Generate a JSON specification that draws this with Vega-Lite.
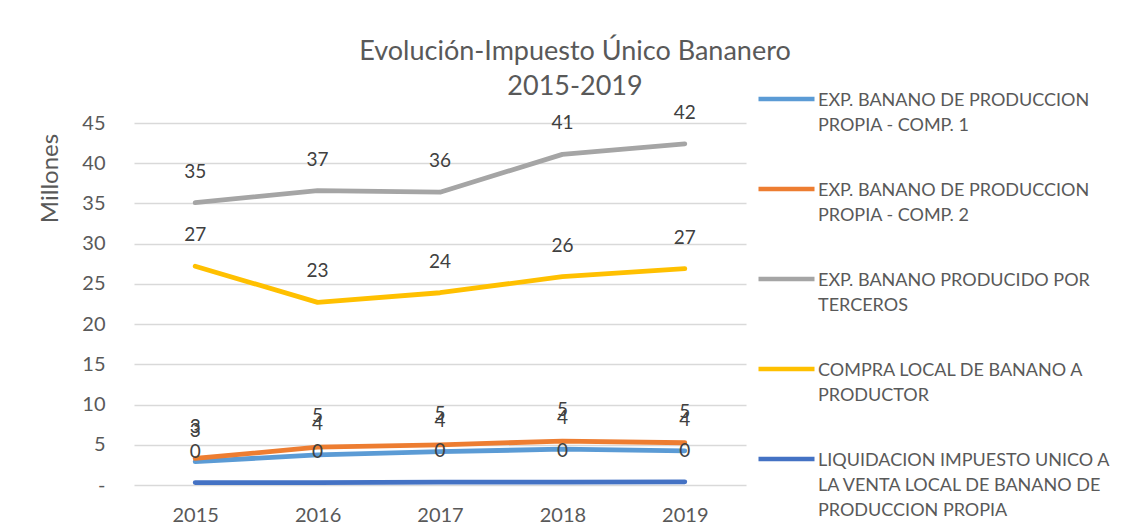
{
  "$schema": "https://vega.github.io/schema/vega-lite/v6.json",
  "autosize": {"type": "none"},
  "width": 612,
  "height": 362,
  "padding": {"left": 134, "top": 123, "right": 384, "bottom": 46},
  "config": {
    "font": "Lato",
    "view": {"stroke": null},
    "style": {"guide-label": {"lineHeight": 25}}
  },
  "title": {
    "text": ["Evolución-Impuesto Único Bananero", "2015-2019"],
    "fontSize": 27,
    "fontWeight": "normal",
    "color": "#595959",
    "anchor": "middle",
    "dx": 135,
    "lineHeight": 35,
    "offset": -26
  },
  "data": {
    "values": [
      {"year": "2015", "serie": "EXP. BANANO DE PRODUCCION PROPIA - COMP. 1", "value": 2.9},
      {"year": "2016", "serie": "EXP. BANANO DE PRODUCCION PROPIA - COMP. 1", "value": 3.75},
      {"year": "2017", "serie": "EXP. BANANO DE PRODUCCION PROPIA - COMP. 1", "value": 4.15},
      {"year": "2018", "serie": "EXP. BANANO DE PRODUCCION PROPIA - COMP. 1", "value": 4.45},
      {"year": "2019", "serie": "EXP. BANANO DE PRODUCCION PROPIA - COMP. 1", "value": 4.25},
      {"year": "2015", "serie": "EXP. BANANO DE PRODUCCION PROPIA - COMP. 2", "value": 3.3},
      {"year": "2016", "serie": "EXP. BANANO DE PRODUCCION PROPIA - COMP. 2", "value": 4.7},
      {"year": "2017", "serie": "EXP. BANANO DE PRODUCCION PROPIA - COMP. 2", "value": 5.0},
      {"year": "2018", "serie": "EXP. BANANO DE PRODUCCION PROPIA - COMP. 2", "value": 5.45},
      {"year": "2019", "serie": "EXP. BANANO DE PRODUCCION PROPIA - COMP. 2", "value": 5.25},
      {"year": "2015", "serie": "EXP. BANANO PRODUCIDO POR TERCEROS", "value": 35.1},
      {"year": "2016", "serie": "EXP. BANANO PRODUCIDO POR TERCEROS", "value": 36.6},
      {"year": "2017", "serie": "EXP. BANANO PRODUCIDO POR TERCEROS", "value": 36.4},
      {"year": "2018", "serie": "EXP. BANANO PRODUCIDO POR TERCEROS", "value": 41.1},
      {"year": "2019", "serie": "EXP. BANANO PRODUCIDO POR TERCEROS", "value": 42.4},
      {"year": "2015", "serie": "COMPRA LOCAL DE BANANO A PRODUCTOR", "value": 27.2},
      {"year": "2016", "serie": "COMPRA LOCAL DE BANANO A PRODUCTOR", "value": 22.7},
      {"year": "2017", "serie": "COMPRA LOCAL DE BANANO A PRODUCTOR", "value": 23.9},
      {"year": "2018", "serie": "COMPRA LOCAL DE BANANO A PRODUCTOR", "value": 25.9},
      {"year": "2019", "serie": "COMPRA LOCAL DE BANANO A PRODUCTOR", "value": 26.9},
      {"year": "2015", "serie": "LIQUIDACION IMPUESTO UNICO A LA VENTA LOCAL DE BANANO DE PRODUCCION PROPIA", "value": 0.3},
      {"year": "2016", "serie": "LIQUIDACION IMPUESTO UNICO A LA VENTA LOCAL DE BANANO DE PRODUCCION PROPIA", "value": 0.3},
      {"year": "2017", "serie": "LIQUIDACION IMPUESTO UNICO A LA VENTA LOCAL DE BANANO DE PRODUCCION PROPIA", "value": 0.35},
      {"year": "2018", "serie": "LIQUIDACION IMPUESTO UNICO A LA VENTA LOCAL DE BANANO DE PRODUCCION PROPIA", "value": 0.35},
      {"year": "2019", "serie": "LIQUIDACION IMPUESTO UNICO A LA VENTA LOCAL DE BANANO DE PRODUCCION PROPIA", "value": 0.4}
    ]
  },
  "encoding": {
    "x": {
      "field": "year",
      "type": "ordinal",
      "scale": {"type": "point", "padding": 0.5},
      "axis": {
        "title": null,
        "labelAngle": 0,
        "labelFontSize": 20,
        "labelColor": "#595959",
        "labelPadding": 20,
        "ticks": false,
        "domain": false,
        "grid": false
      }
    },
    "y": {
      "field": "value",
      "type": "quantitative",
      "scale": {"domain": [0, 45], "nice": false},
      "axis": {
        "title": "Millones",
        "titleFontSize": 24,
        "titleFontWeight": "normal",
        "titleColor": "#595959",
        "titleX": -84,
        "titleY": 55,
        "titleAngle": -90,
        "titleAlign": "center",
        "titleBaseline": "middle",
        "values": [0, 5, 10, 15, 20, 25, 30, 35, 40, 45],
        "labelExpr": "datum.value == 0 ? '-' : datum.label",
        "labelFontSize": 20,
        "labelColor": "#595959",
        "labelPadding": 29,
        "ticks": false,
        "domain": false,
        "grid": true,
        "gridColor": "#D9D9D9",
        "gridWidth": 1.3
      }
    },
    "color": {
      "field": "serie",
      "type": "nominal",
      "scale": {
        "domain": [
          "EXP. BANANO DE PRODUCCION PROPIA - COMP. 1",
          "EXP. BANANO DE PRODUCCION PROPIA - COMP. 2",
          "EXP. BANANO PRODUCIDO POR TERCEROS",
          "COMPRA LOCAL DE BANANO A PRODUCTOR",
          "LIQUIDACION IMPUESTO UNICO A LA VENTA LOCAL DE BANANO DE PRODUCCION PROPIA"
        ],
        "range": ["#5B9BD5", "#ED7D31", "#A5A5A5", "#FFC000", "#4472C4"]
      },
      "legend": {
        "title": null,
        "orient": "none",
        "legendX": 622,
        "legendY": -48,
        "labelFontSize": 18,
        "labelColor": "#595959",
        "labelLimit": 400,
        "labelOffset": 1,
        "labelBaseline": "alphabetic",
        "symbolType": "M-1,-0.23L1,-0.23",
        "symbolSize": 3136,
        "symbolStrokeWidth": 4.5,
        "rowPadding": 30,
        "labelExpr": "datum.label == 'EXP. BANANO DE PRODUCCION PROPIA - COMP. 1' ? ['EXP. BANANO DE PRODUCCION', 'PROPIA - COMP. 1'] : datum.label == 'EXP. BANANO DE PRODUCCION PROPIA - COMP. 2' ? ['EXP. BANANO DE PRODUCCION', 'PROPIA - COMP. 2'] : datum.label == 'EXP. BANANO PRODUCIDO POR TERCEROS' ? ['EXP. BANANO PRODUCIDO POR', 'TERCEROS'] : datum.label == 'COMPRA LOCAL DE BANANO A PRODUCTOR' ? ['COMPRA LOCAL DE BANANO A', 'PRODUCTOR'] : ['LIQUIDACION IMPUESTO UNICO A', 'LA VENTA LOCAL DE BANANO DE', 'PRODUCCION PROPIA']"
      }
    }
  },
  "layer": [
    {
      "mark": {"type": "line", "strokeWidth": 4.8, "strokeCap": "round", "strokeJoin": "round"}
    },
    {
      "mark": {"type": "text", "dy": -31, "fontSize": 19},
      "encoding": {
        "text": {"field": "value", "type": "quantitative", "format": ".0f"},
        "color": {"value": "#404040"}
      }
    }
  ]
}
